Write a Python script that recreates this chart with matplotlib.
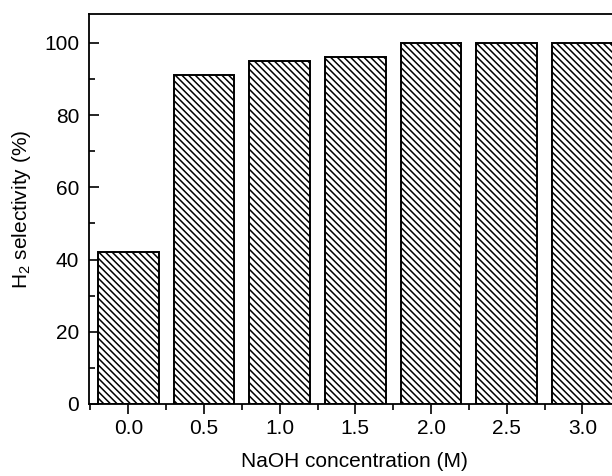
import matplotlib.pyplot as plt
from matplotlib.ticker import MultipleLocator

plt.rcParams['font.family'] = ['Liberation Sans', 'DejaVu Sans']
plt.rcParams['mathtext.fontset'] = 'custom'
plt.rcParams['mathtext.rm'] = 'Liberation Sans'
plt.rcParams['hatch.linewidth'] = 1.1
plt.rcParams['hatch.color'] = '#222222'

# datos
naoh = [0.0, 0.5, 1.0, 1.5, 2.0, 2.5, 3.0]
selectividad = [42, 91, 95, 96, 100, 100, 100]

fig = plt.figure(figsize=(6.12, 4.76), dpi=100)
ax = fig.add_axes([0.1454, 0.1513, 0.868, 0.8193])

ax.bar(naoh, selectividad, width=0.4, color='white', edgecolor='black',
       linewidth=1.4, hatch='\\' * 5)

ax.set_xlim(-0.26, 3.25)
ax.set_ylim(0, 108)

ax.xaxis.set_minor_locator(MultipleLocator(0.25))
ax.yaxis.set_major_locator(MultipleLocator(20))
ax.yaxis.set_minor_locator(MultipleLocator(10))
ax.set_xticks(naoh)
ax.set_xticklabels([f"{v:.1f}" for v in naoh])

ax.tick_params(axis='x', which='both', direction='out', labelsize=15, width=1.2, pad=4)
ax.tick_params(axis='y', which='both', direction='in', labelsize=15, width=1.2, pad=7)
ax.tick_params(which='major', length=7)
ax.tick_params(which='minor', length=4)

for s in ax.spines.values():
    s.set_linewidth(1.3)

ax.set_xlabel("NaOH concentration (M)", fontsize=15, labelpad=10)
ax.set_ylabel("H$_2$ selectivity (%)", fontsize=15, labelpad=8)

fig.savefig("out.png", dpi=100)
